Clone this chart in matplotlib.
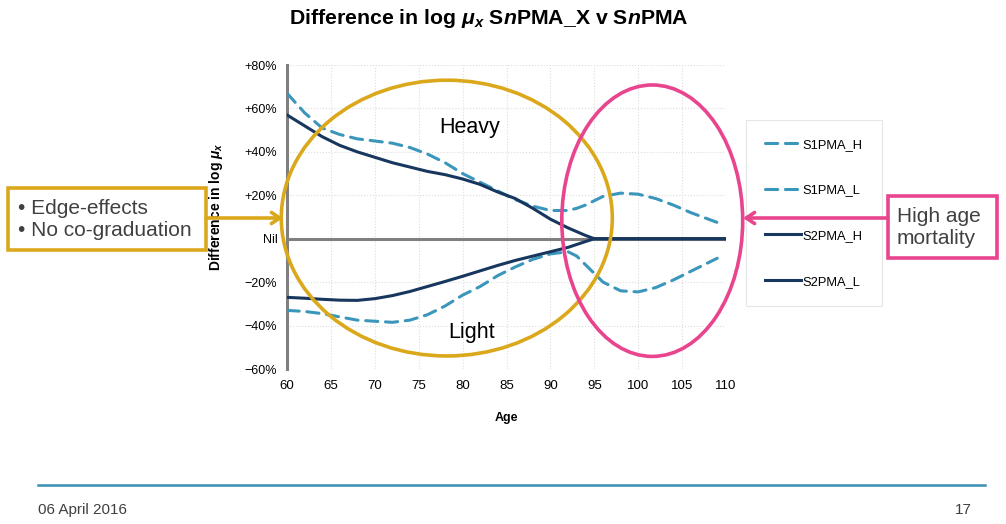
import matplotlib
matplotlib.use('Agg')
import matplotlib.pyplot as plt
from matplotlib.patches import Ellipse, Rectangle, FancyArrowPatch
from matplotlib.lines import Line2D

plt.rcParams['font.family'] = ['Liberation Sans', 'DejaVu Sans']
plt.rcParams['mathtext.fontset'] = 'custom'
plt.rcParams['mathtext.it'] = 'Liberation Sans:italic:bold'
plt.rcParams['mathtext.rm'] = 'Liberation Sans:bold'
plt.rcParams['mathtext.bf'] = 'Liberation Sans:bold'

# data (difference in %)
age_s1 = [60, 62, 64, 66, 68, 70, 72, 74, 76, 78, 80, 82, 84, 86, 88, 90, 92, 93, 94, 95, 96, 98, 100, 102, 104, 106, 108, 109]
s1pma_h = [67, 58, 51, 48, 46, 45, 44, 42, 39, 35, 30, 26, 22, 18, 15, 13, 13, 14, 15.5, 17.5, 19.5, 21, 20.5, 18.5, 15.5, 12, 9, 7.5]
s1pma_l = [-33, -33.5, -34.5, -36, -37.5, -38, -38.5, -37.5, -35, -31, -26, -22, -17, -13, -9.5, -7, -6, -8, -12, -16, -20, -24, -24.5, -22.5, -19, -15, -11, -9]

age_s2 = [60, 62, 64, 66, 68, 70, 72, 74, 76, 78, 80, 82, 84, 86, 88, 90, 92, 94, 95, 100, 105, 110]
s2pma_h = [57, 52, 47, 43, 40, 37.5, 35, 33, 31, 29.5, 27.5, 25, 21.5, 18.5, 14, 9, 5, 1.5, 0, 0, 0, 0]
s2pma_l = [-27, -27.4, -27.9, -28.3, -28.4, -27.6, -26.2, -24.3, -22, -19.7, -17.3, -14.8, -12.3, -10, -8, -6, -4, -1.3, 0, 0, 0, 0]

x_ticks = list(range(60, 111, 5))
y_ticks = [-60, -40, -20, 0, 20, 40, 60, 80]
y_labels = ['\u221260%', '\u221240%', '\u221220%', 'Nil', '+20%', '+40%', '+60%', '+80%']

light = '#3b96bb'
dark = '#17375e'
gold = '#dba81c'
pink = '#e8458e'
txt = '#404040'

fig = plt.figure(figsize=(10.06, 5.24), dpi=100)
ax = fig.add_axes([287/1006, 1-369/524, (726-287)/1006, (369-65)/524])

ax.set_xlim(60, 110)
ax.set_ylim(-60, 80)
ax.grid(True, color='#dddddd', linestyle=':', linewidth=0.8)
ax.set_axisbelow(True)
for s in ['top', 'right', 'bottom']:
    ax.spines[s].set_visible(False)
ax.spines['left'].set_color('#808080')
ax.spines['left'].set_linewidth(2.2)
ax.axhline(0, color='#808080', linewidth=2.2, zorder=1)

ax.plot(age_s1, s1pma_h, color=light, lw=2.2, dashes=(4, 2.5), dash_capstyle='round', label='S1PMA_H', zorder=3)
ax.plot(age_s1, s1pma_l, color=light, lw=2.2, dashes=(4, 2.5), dash_capstyle='round', label='S1PMA_L', zorder=3)
ax.plot(age_s2, s2pma_h, color=dark, lw=2.2, label='S2PMA_H', zorder=4)
ax.plot(age_s2, s2pma_l, color=dark, lw=2.2, label='S2PMA_L', zorder=4)

ax.set_xticks(x_ticks)
ax.set_yticks(y_ticks)
ax.set_yticklabels(y_labels)
ax.tick_params(axis='both', length=0, colors='black')
ax.tick_params(axis='x', labelsize=9.5, pad=8)
ax.tick_params(axis='y', labelsize=9, pad=7)

ax.set_xlabel('Age', fontsize=9, fontweight='bold', labelpad=14)
ax.set_ylabel(r'Difference in log $\mu_x$', fontsize=10, fontweight='bold')
ax.yaxis.set_label_coords(-0.142, 0.533)

fig.text(489/1006, 1-18/524, r'Difference in log $\mu_x$ S$n$PMA_X v S$n$PMA',
         fontsize=15.3, fontweight='bold', ha='center', va='center')

# ellipses highlighting regions
ax.add_patch(Ellipse((78.2, 9.5), 37.7, 127, fill=False, edgecolor=gold, lw=2.6, clip_on=False, zorder=5))
ax.add_patch(Ellipse((101.6, 8.3), 20.6, 125, fill=False, edgecolor=pink, lw=2.6, clip_on=False, zorder=5))
ax.text(80.8, 51, 'Heavy', fontsize=15.5, ha='center', va='center', color='black')
ax.text(81, -43, 'Light', fontsize=15.5, ha='center', va='center', color='black')

leg = ax.legend(loc='upper left', bbox_to_anchor=(746/1006, 1-120/524), bbox_transform=fig.transFigure,
                fontsize=9.3, frameon=True, fancybox=False, labelspacing=2.6, handlelength=2.8,
                handletextpad=0.15, borderpad=1.45, borderaxespad=0)
leg.get_frame().set_edgecolor('#e0e0e0')
leg.get_frame().set_linewidth(0.8)

# callout boxes
fig.add_artist(Rectangle((8/1006, 1-250/524), 198/1006, 62/524, transform=fig.transFigure,
                         fill=False, edgecolor=gold, lw=2.6))
fig.text(18/1006, 1-220/524, '\u2022 Edge-effects\n\u2022 No co-graduation', fontsize=15,
         color=txt, ha='left', va='center', linespacing=1.2)
fig.add_artist(FancyArrowPatch((206/1006, 1-218/524), (283/1006, 1-218/524), transform=fig.transFigure,
                               arrowstyle='->,head_length=6,head_width=4', color=gold, lw=2.6,
                               shrinkA=0, shrinkB=0))

fig.add_artist(Rectangle((888/1006, 1-258/524), 109/1006, 62/524, transform=fig.transFigure,
                         fill=False, edgecolor=pink, lw=2.6))
fig.text(897/1006, 1-227/524, 'High age\nmortality', fontsize=15, color=txt,
         ha='left', va='center', linespacing=1.2)
fig.add_artist(FancyArrowPatch((888/1006, 1-218/524), (743/1006, 1-218/524), transform=fig.transFigure,
                               arrowstyle='->,head_length=6,head_width=4', color=pink, lw=2.6,
                               shrinkA=0, shrinkB=0))

# footer
fig.add_artist(Line2D([38/1006, 985/1006], [1-485/524, 1-485/524], transform=fig.transFigure,
                      color='#3a8fb5', lw=1.8))
fig.text(38/1006, 1-510/524, '06 April 2016', fontsize=11, color=txt, ha='left', va='center')
fig.text(972/1006, 1-510/524, '17', fontsize=11, color=txt, ha='right', va='center')

fig.savefig('out.png', dpi=100)
